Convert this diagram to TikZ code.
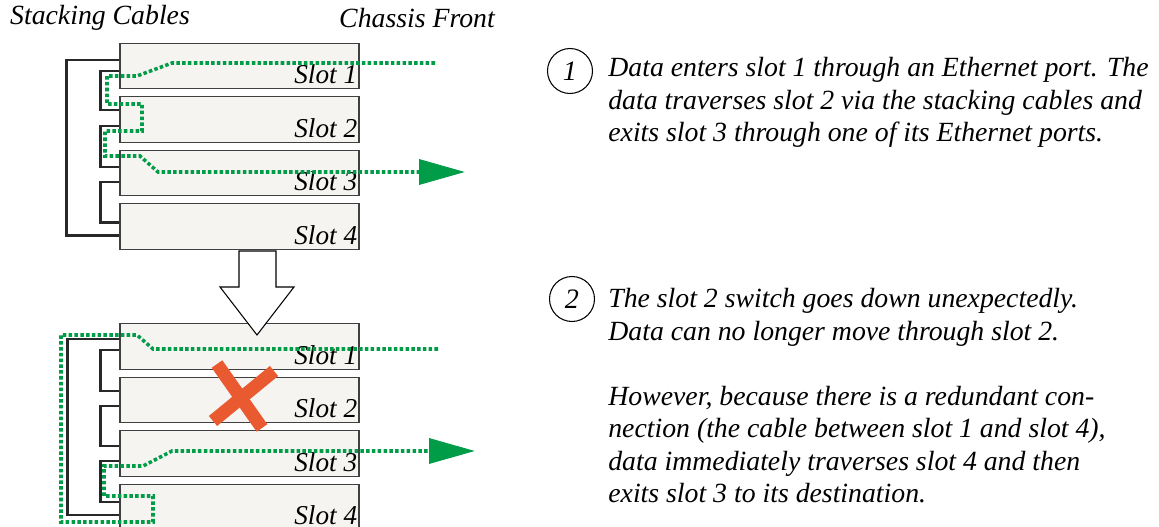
\documentclass[tikz,border=0pt]{standalone}
\usepackage{fontspec}
\setmainfont{Liberation Serif}
\newfontfamily\timesit{Liberation Serif}
\usepackage{tikz}
\usetikzlibrary{arrows.meta, positioning, calc}
\definecolor{slotfill}{RGB}{245,244,241}
\definecolor{pathgreen}{RGB}{0,156,72}
\definecolor{faultred}{RGB}{234,90,48}
\definecolor{cablegray}{RGB}{40,40,40}

\begin{document}
\begin{tikzpicture}[
  x=0.02cm, y=-0.02cm,
  node distance=0.14cm,
  slot/.style={rectangle, draw=black!75, line width=0.6pt, fill=slotfill, minimum width=4.78cm, minimum height=0.91cm, inner sep=0pt},
  slotlbl/.style={anchor=south east, inner xsep=0.04cm, inner ysep=0.1cm, font=\timesit\itshape\fontsize{15.5}{18}\selectfont},
  caption/.style={font=\timesit\itshape\fontsize{15.8}{18.5}\selectfont, inner sep=0pt},
  note/.style={caption, align=left, anchor=north west},
  numcirc/.style={circle, draw, line width=0.6pt, minimum size=0.9cm, inner sep=0pt, font=\timesit\itshape\fontsize{16}{18}\selectfont},
  cable/.style={draw=cablegray, line width=1.3pt},
  datapath/.style={draw=pathgreen, line width=2pt, dash pattern=on 2pt off 1.3pt, -{Triangle[length=0.92cm, width=0.5cm]}},
  cross/.style={draw=faultred, line width=0.26cm},
  bigarrow/.style={draw, fill=white, line width=0.6pt}
]
  \useasboundingbox (0,0) rectangle (1159,527);

  \node[caption] (hcab) at (100,18) {Stacking Cables};
  \node[caption] (hfront) at (417,18) {Chassis Front};

  \node[slot, label={[slotlbl]south east:Slot 1}] (t1) at (239.5,66) {};
  \node[slot, below=of t1, label={[slotlbl]south east:Slot 2}] (t2) {};
  \node[slot, below=of t2, label={[slotlbl]south east:Slot 3}] (t3) {};
  \node[slot, below=of t3, label={[slotlbl]south east:Slot 4}] (t4) {};

  \draw[cable] ($(t1.north west)+(0,17)$) -- ++(-53,0) |- ($(t4.north west)+(0,32)$);
  \draw[cable] ($(t1.north west)+(0,28)$) -- ++(-19,0) |- ($(t2.north west)+(0,14)$);
  \draw[cable] ($(t2.north west)+(0,30)$) -- ++(-19,0) |- ($(t3.north west)+(0,17)$);
  \draw[cable] ($(t3.north west)+(0,32)$) -- ++(-19,0) |- ($(t4.north west)+(0,19)$);

  \coordinate (in1) at (435,63);
  \coordinate (out1) at (465,172);
  \draw[datapath] (in1) -- (172,63) -- (137,76) -- (107,76) -- (107,104) -- (142,104) -- (142,131) -- (105,131) -- (105,156) -- (140,156) -- (158,172) -- (out1);

  \node[slot, label={[slotlbl]south east:Slot 1}] (b1) at (239.5,346.5) {};
  \node[slot, below=of b1, label={[slotlbl]south east:Slot 2}] (b2) {};
  \node[slot, below=of b2, label={[slotlbl]south east:Slot 3}] (b3) {};
  \node[slot, below=of b3, label={[slotlbl]south east:Slot 4}] (b4) {};

  \draw[bigarrow] (239,251) -- (276,251) -- (276,287) -- (294,287) -- (257,335) -- (220,287) -- (239,287) -- cycle;

  \draw[cable] ($(b1.north west)+(0,16)$) -- ++(-52,0) |- ($(b4.north west)+(0,31)$);
  \draw[cable] ($(b1.north west)+(0,27)$) -- ++(-19,0) |- ($(b2.north west)+(0,14)$);
  \draw[cable] ($(b2.north west)+(0,29)$) -- ++(-19,0) |- ($(b3.north west)+(0,16)$);
  \draw[cable] ($(b3.north west)+(0,31)$) -- ++(-19,0) |- ($(b4.north west)+(0,18)$);

  \draw[cross] (217,364) -- (262,428);
  \draw[cross] (274,371) -- (213,421);

  \coordinate (in2) at (438,349);
  \coordinate (out2) at (475,451);
  \draw[datapath] (in2) -- (153,349) -- (137,335) -- (61,335) -- (61,522) -- (153,522) -- (153,496) -- (104,496) -- (104,466) -- (143,466) -- (172,451) -- (out2);

  \node[numcirc] (n1) at (570,71) {1};
  \node[note] (d1) at (608,57) {Data enters slot 1 through an Ethernet port. The\\data traverses slot 2 via the stacking cables and\\exits slot 3 through one of its Ethernet ports.};

  \node[numcirc] (n2) at (572,299) {2};
  \node[note] (d2) at (608,288) {The slot 2 switch goes down unexpectedly.\\Data can no longer move through slot 2.\\[18.5pt]However, because there is a redundant con-\\nection (the cable between slot 1 and slot 4),\\data immediately traverses slot 4 and then\\exits slot 3 to its destination.};
\end{tikzpicture}
\end{document}
